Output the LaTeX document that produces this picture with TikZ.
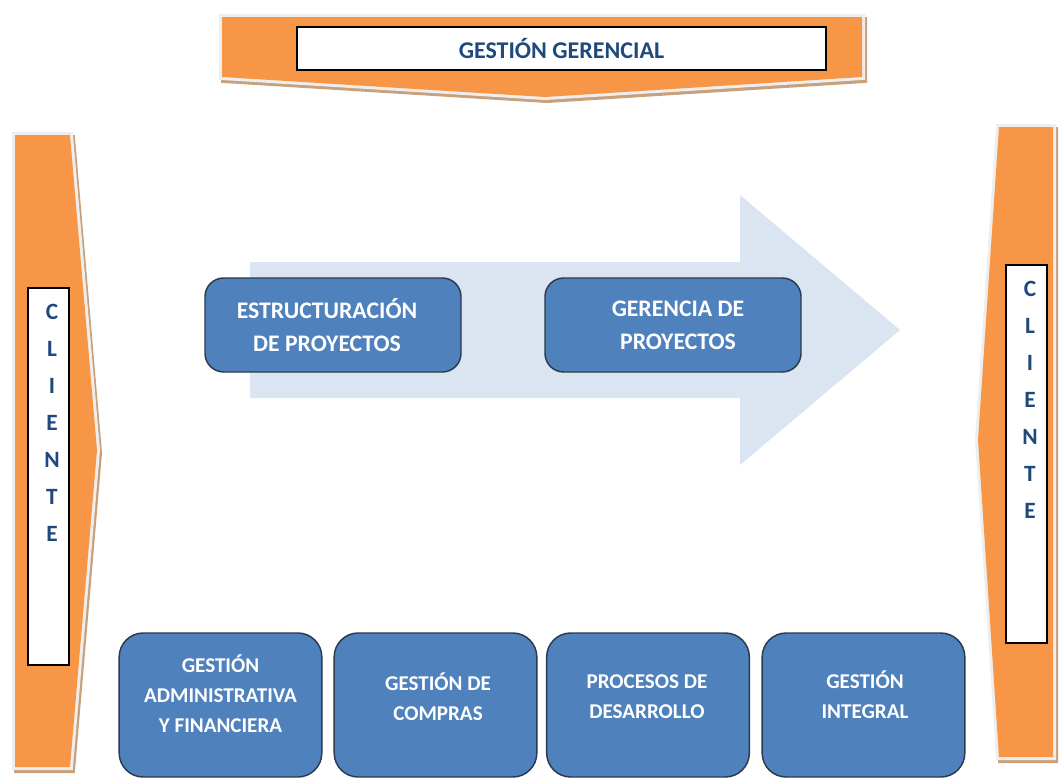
\documentclass[tikz,border=0pt]{standalone}
\usepackage{fontspec}
\setmainfont{Carlito}
\definecolor{orangeF}{HTML}{F79646}
\definecolor{blueF}{HTML}{4F81BD}
\definecolor{blueB}{HTML}{2B3A4E}
\definecolor{arrowF}{HTML}{DBE5F1}
\definecolor{darkT}{HTML}{1F497D}
\definecolor{frameG}{HTML}{EEEEEE}
\definecolor{shadowT}{HTML}{C9A07C}
\tikzset{
  frameline/.style={draw=frameG, line width=4.5pt, line join=miter},
  shadowline/.style={draw=shadowT, line width=4.5pt, line join=miter, shift={(2,3)}},
  orangefill/.style={fill=orangeF},
  whitebox/.style={draw=black, fill=white, line width=0.9pt},
  bluebox/.style={draw=blueB, fill=blueF, line width=1.1pt, rounded corners=14pt},
  boxtext/.style={text=white, font=\bfseries\fontsize{17.8}{24.8}\selectfont, align=center},
  lowtext/.style={text=white, font=\bfseries\fontsize{15.8}{22.5}\selectfont, align=center},
  cltext/.style={text=darkT, font=\bfseries\fontsize{17.5}{27.75}\selectfont, align=center}
}
\begin{document}
\begin{tikzpicture}[x=0.75pt,y=-0.75pt]
\useasboundingbox (0,0) rectangle (1060,778);
% ---------- top banner ----------
\draw[shadowline] (222,17) -- (862,17) -- (862,77) -- (545,97) -- (222,77) -- cycle;
\draw[frameline] (222,17) -- (862,17) -- (862,77) -- (545,97) -- (222,77) -- cycle;
\fill[orangefill] (222,17) -- (862,17) -- (862,77) -- (545,97) -- (222,77) -- cycle;
\node[whitebox, minimum width=396.75pt, minimum height=32.25pt, inner sep=0pt,
      text=darkT, font=\bfseries\fontsize{18}{22}\selectfont] (gg) at (561.5,48.5) {GESTIÓN GERENCIAL};
% ---------- left client ----------
\draw[shadowline] (15,135) -- (70,135) -- (97,450) -- (70,767) -- (15,767) -- cycle;
\draw[frameline] (15,135) -- (70,135) -- (97,450) -- (70,767) -- (15,767) -- cycle;
\fill[orangefill] (15,135) -- (70,135) -- (97,450) -- (70,767) -- (15,767) -- cycle;
\node[whitebox, minimum width=30.75pt, minimum height=282.75pt, inner sep=0pt] (cl) at (48.5,476.5) {};
\node[cltext, anchor=north] (clt) at (52,299) {C\\L\\I\\E\\N\\T\\E};
% ---------- right client ----------
\draw[shadowline] (999,127) -- (1053,127) -- (1053,757) -- (999,757) -- (978,440) -- cycle;
\draw[frameline] (999,127) -- (1053,127) -- (1053,757) -- (999,757) -- (978,440) -- cycle;
\fill[orangefill] (999,127) -- (1053,127) -- (1053,757) -- (999,757) -- (978,440) -- cycle;
\node[whitebox, minimum width=30.75pt, minimum height=283.5pt, inner sep=0pt] (cr) at (1026.5,454) {};
\node[cltext, anchor=north] (crt) at (1030,276) {C\\L\\I\\E\\N\\T\\E};
% ---------- big arrow ----------
\fill[arrowF] (250,262) -- (740,262) -- (740,195) -- (900,330) -- (740,465) -- (740,398) -- (250,398) -- cycle;
% ---------- project boxes ----------
\node[bluebox, minimum width=192pt, minimum height=70.5pt] (ep) at (333,325) {};
\node[boxtext] (ept) at (327,325) {ESTRUCTURACIÓN\\DE PROYECTOS};
\node[bluebox, minimum width=192pt, minimum height=70.5pt] (gp) at (673,325) {};
\node[boxtext] (gpt) at (678,325) {GERENCIA DE\\PROYECTOS};
% ---------- bottom boxes ----------
\node[bluebox, rounded corners=18pt, minimum width=152pt, minimum height=108pt] (b1) at (220.5,705) {};
\node[lowtext] (b1t) at (220.5,694) {GESTIÓN\\ADMINISTRATIVA\\Y FINANCIERA};
\node[bluebox, rounded corners=18pt, minimum width=152pt, minimum height=108pt] (b2) at (435.5,705) {};
\node[lowtext] (b2t) at (438,697) {GESTIÓN DE\\COMPRAS};
\node[bluebox, rounded corners=18pt, minimum width=152pt, minimum height=108pt] (b3) at (648,705) {};
\node[lowtext] (b3t) at (647,697) {PROCESOS DE\\DESARROLLO};
\node[bluebox, rounded corners=18pt, minimum width=152pt, minimum height=108pt] (b4) at (863.5,705) {};
\node[lowtext] (b4t) at (865,695) {GESTIÓN\\INTEGRAL};
\end{tikzpicture}
\end{document}
